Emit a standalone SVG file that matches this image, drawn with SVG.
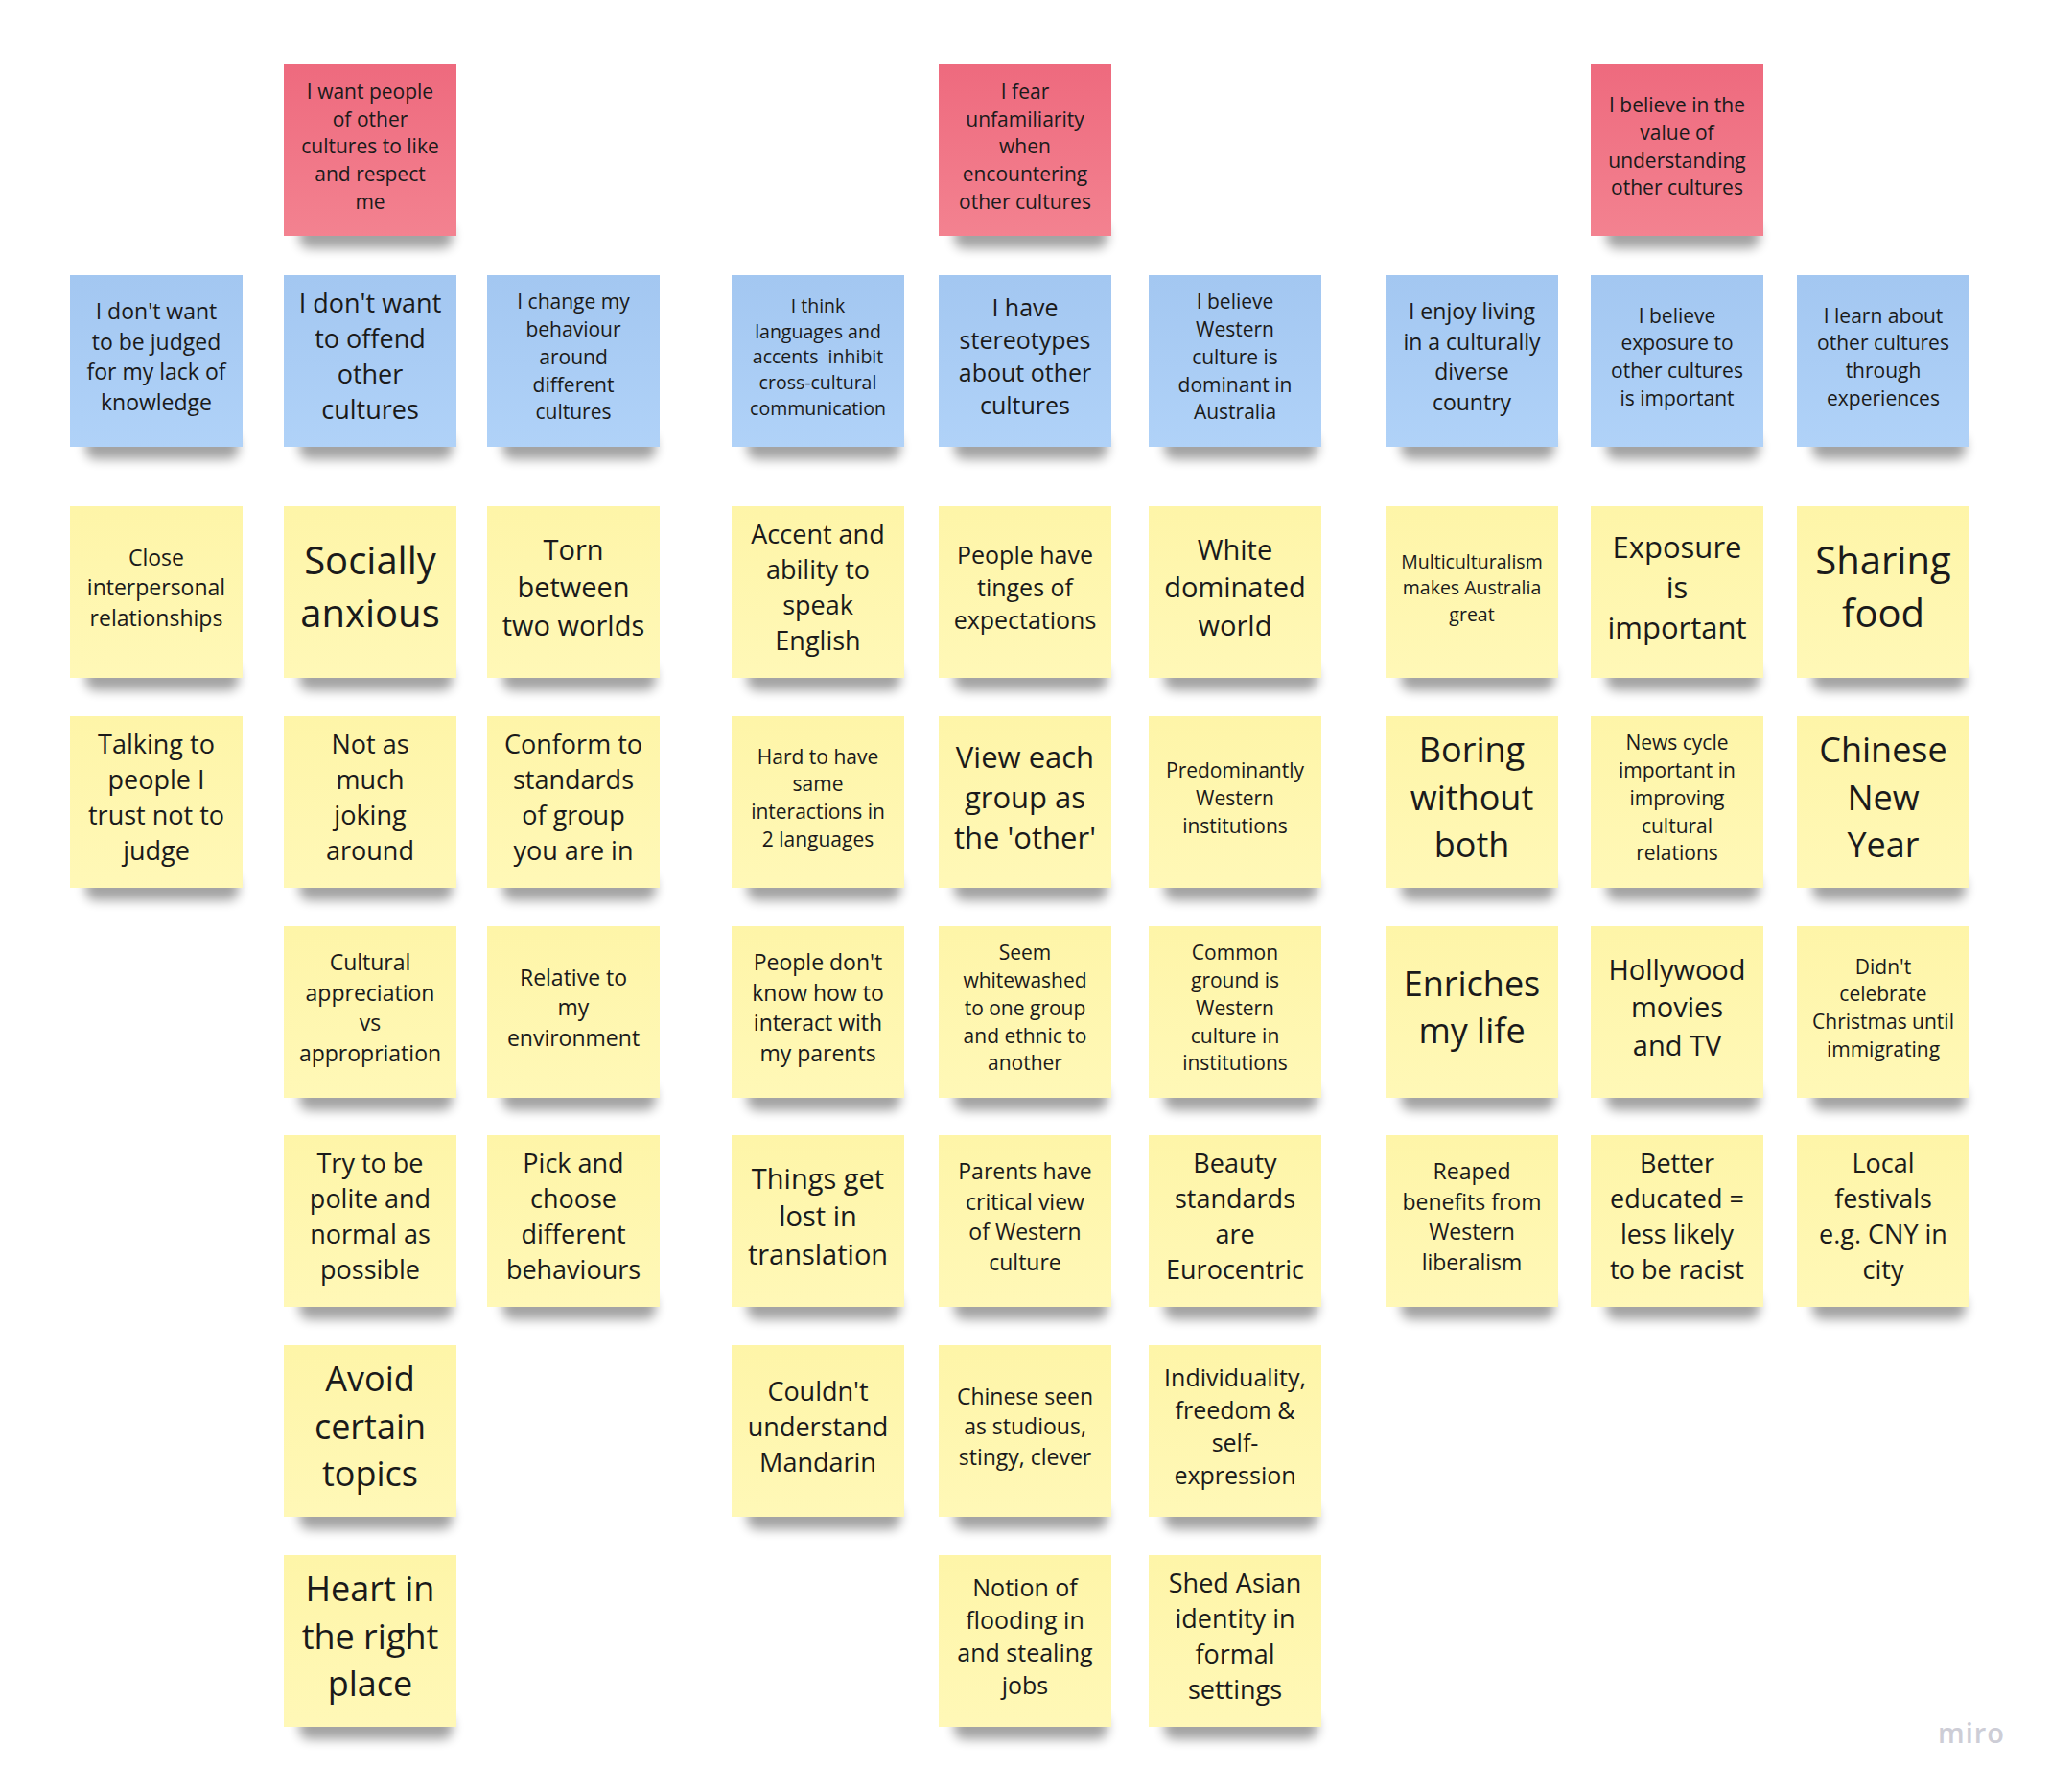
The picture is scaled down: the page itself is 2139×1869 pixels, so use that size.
<svg xmlns="http://www.w3.org/2000/svg" width="2139" height="1869" viewBox="0 0 2139 1869">
<defs>
<linearGradient id="gy" x1="0" y1="0" x2="0" y2="1"><stop offset="0" stop-color="#fef5a8"/><stop offset="1" stop-color="#fff8b7"/></linearGradient>
<linearGradient id="gb" x1="0" y1="0" x2="0" y2="1"><stop offset="0" stop-color="#a3c7f1"/><stop offset="1" stop-color="#b0d2f8"/></linearGradient>
<linearGradient id="gr" x1="0" y1="0" x2="0" y2="1"><stop offset="0" stop-color="#ee6a7e"/><stop offset="1" stop-color="#f38290"/></linearGradient>
<filter id="blur" x="-20%" y="-150%" width="140%" height="400%"><feGaussianBlur stdDeviation="6"/></filter>
</defs>
<style>
.sh{fill:#000;opacity:.36;filter:url(#blur)}
.y{fill:url(#gy)}
.b{fill:url(#gb)}
.r{fill:url(#gr)}
.t{font-family:"Open Sans","Noto Sans","DejaVu Sans",sans-serif;fill:#1a1a1a;text-anchor:middle}
.logo{font-family:"Open Sans","Noto Sans",sans-serif;font-weight:600;fill:#cdcdd6;font-size:29px;letter-spacing:1px}
</style>
<rect width="2139" height="1869" fill="#ffffff"/>

<!-- Red header notes -->
<g id="red-1" transform="translate(296,67)"><rect class="sh" x="16" y="166" width="160" height="26" rx="10"/><rect class="r" width="180" height="179"/><text class="t" font-size="21"><tspan x="90" y="35.7">I want people</tspan><tspan x="90" y="64.5">of other</tspan><tspan x="90" y="93.2">cultures to like</tspan><tspan x="90" y="122">and respect</tspan><tspan x="90" y="150.8">me</tspan></text></g>
<g id="red-2" transform="translate(979,67)"><rect class="sh" x="16" y="166" width="160" height="26" rx="10"/><rect class="r" width="180" height="179"/><text class="t" font-size="21"><tspan x="90" y="35.7">I fear</tspan><tspan x="90" y="64.5">unfamiliarity</tspan><tspan x="90" y="93.2">when</tspan><tspan x="90" y="122">encountering</tspan><tspan x="90" y="150.8">other cultures</tspan></text></g>
<g id="red-3" transform="translate(1659,67)"><rect class="sh" x="16" y="166" width="160" height="26" rx="10"/><rect class="r" width="180" height="179"/><text class="t" font-size="21"><tspan x="90" y="50.1">I believe in the</tspan><tspan x="90" y="78.8">value of</tspan><tspan x="90" y="107.6">understanding</tspan><tspan x="90" y="136.4">other cultures</tspan></text></g>

<!-- Blue notes -->
<g id="blue-1" transform="translate(73,287)"><rect class="sh" x="16" y="166" width="160" height="26" rx="10"/><rect class="b" width="180" height="179"/><text class="t" font-size="23"><tspan x="90" y="46.1">I don't want</tspan><tspan x="90" y="77.6">to be judged</tspan><tspan x="90" y="109.1">for my lack of</tspan><tspan x="90" y="140.6">knowledge</tspan></text></g>
<g id="blue-2" transform="translate(296,287)"><rect class="sh" x="16" y="166" width="160" height="26" rx="10"/><rect class="b" width="180" height="179"/><text class="t" font-size="27"><tspan x="90" y="39.2">I don't want</tspan><tspan x="90" y="76.1">to offend</tspan><tspan x="90" y="113.1">other</tspan><tspan x="90" y="150.1">cultures</tspan></text></g>
<g id="blue-3" transform="translate(508,287)"><rect class="sh" x="16" y="166" width="160" height="26" rx="10"/><rect class="b" width="180" height="179"/><text class="t" font-size="21"><tspan x="90" y="35.2">I change my</tspan><tspan x="90" y="64">behaviour</tspan><tspan x="90" y="92.7">around</tspan><tspan x="90" y="121.5">different</tspan><tspan x="90" y="150.3">cultures</tspan></text></g>
<g id="blue-4" transform="translate(763,287)"><rect class="sh" x="16" y="166" width="160" height="26" rx="10"/><rect class="b" width="180" height="179"/><text class="t" font-size="19.5" xml:space="preserve"><tspan x="90" y="38.8">I think</tspan><tspan x="90" y="65.5">languages and</tspan><tspan x="90" y="92.2">accents  inhibit</tspan><tspan x="90" y="119">cross-cultural</tspan><tspan x="90" y="145.7">communication</tspan></text></g>
<g id="blue-5" transform="translate(979,287)"><rect class="sh" x="16" y="166" width="160" height="26" rx="10"/><rect class="b" width="180" height="179"/><text class="t" font-size="25"><tspan x="90" y="42.6">I have</tspan><tspan x="90" y="76.9">stereotypes</tspan><tspan x="90" y="111.1">about other</tspan><tspan x="90" y="145.4">cultures</tspan></text></g>
<g id="blue-6" transform="translate(1198,287)"><rect class="sh" x="16" y="166" width="160" height="26" rx="10"/><rect class="b" width="180" height="179"/><text class="t" font-size="21"><tspan x="90" y="35.2">I believe</tspan><tspan x="90" y="64">Western</tspan><tspan x="90" y="92.7">culture is</tspan><tspan x="90" y="121.5">dominant in</tspan><tspan x="90" y="150.3">Australia</tspan></text></g>
<g id="blue-7" transform="translate(1445,287)"><rect class="sh" x="16" y="166" width="160" height="26" rx="10"/><rect class="b" width="180" height="179"/><text class="t" font-size="23"><tspan x="90" y="46.1">I enjoy living</tspan><tspan x="90" y="77.6">in a culturally</tspan><tspan x="90" y="109.1">diverse</tspan><tspan x="90" y="140.6">country</tspan></text></g>
<g id="blue-8" transform="translate(1659,287)"><rect class="sh" x="16" y="166" width="160" height="26" rx="10"/><rect class="b" width="180" height="179"/><text class="t" font-size="21"><tspan x="90" y="49.6">I believe</tspan><tspan x="90" y="78.3">exposure to</tspan><tspan x="90" y="107.1">other cultures</tspan><tspan x="90" y="135.9">is important</tspan></text></g>
<g id="blue-9" transform="translate(1874,287)"><rect class="sh" x="16" y="166" width="160" height="26" rx="10"/><rect class="b" width="180" height="179"/><text class="t" font-size="21"><tspan x="90" y="49.6">I learn about</tspan><tspan x="90" y="78.3">other cultures</tspan><tspan x="90" y="107.1">through</tspan><tspan x="90" y="135.9">experiences</tspan></text></g>

<!-- Yellow row 1 -->
<g id="y1-1" transform="translate(73,528)"><rect class="sh" x="16" y="166" width="160" height="26" rx="10"/><rect class="y" width="180" height="179"/><text class="t" font-size="23"><tspan x="90" y="61.9">Close</tspan><tspan x="90" y="93.4">interpersonal</tspan><tspan x="90" y="124.9">relationships</tspan></text></g>
<g id="y1-2" transform="translate(296,528)"><rect class="sh" x="16" y="166" width="160" height="26" rx="10"/><rect class="y" width="180" height="179"/><text class="t" font-size="40"><tspan x="90" y="71.4">Socially</tspan><tspan x="90" y="126.2">anxious</tspan></text></g>
<g id="y1-3" transform="translate(508,528)"><rect class="sh" x="16" y="166" width="160" height="26" rx="10"/><rect class="y" width="180" height="179"/><text class="t" font-size="29"><tspan x="90" y="55.6">Torn</tspan><tspan x="90" y="95.3">between</tspan><tspan x="90" y="135">two worlds</tspan></text></g>
<g id="y1-4" transform="translate(763,528)"><rect class="sh" x="16" y="166" width="160" height="26" rx="10"/><rect class="y" width="180" height="179"/><text class="t" font-size="27"><tspan x="90" y="39.2">Accent and</tspan><tspan x="90" y="76.1">ability to</tspan><tspan x="90" y="113.1">speak</tspan><tspan x="90" y="150.1">English</tspan></text></g>
<g id="y1-5" transform="translate(979,528)"><rect class="sh" x="16" y="166" width="160" height="26" rx="10"/><rect class="y" width="180" height="179"/><text class="t" font-size="25"><tspan x="90" y="59.8">People have</tspan><tspan x="90" y="94">tinges of</tspan><tspan x="90" y="128.3">expectations</tspan></text></g>
<g id="y1-6" transform="translate(1198,528)"><rect class="sh" x="16" y="166" width="160" height="26" rx="10"/><rect class="y" width="180" height="179"/><text class="t" font-size="29"><tspan x="90" y="55.6">White</tspan><tspan x="90" y="95.3">dominated</tspan><tspan x="90" y="135">world</tspan></text></g>
<g id="y1-7" transform="translate(1445,528)"><rect class="sh" x="16" y="166" width="160" height="26" rx="10"/><rect class="y" width="180" height="179"/><text class="t" font-size="19.5"><tspan x="90" y="65">Multiculturalism</tspan><tspan x="90" y="92.4">makes Australia</tspan><tspan x="90" y="119.8">great</tspan></text></g>
<g id="y1-8" transform="translate(1659,528)"><rect class="sh" x="16" y="166" width="160" height="26" rx="10"/><rect class="y" width="180" height="179"/><text class="t" font-size="31"><tspan x="90" y="53.5">Exposure</tspan><tspan x="90" y="95.9">is</tspan><tspan x="90" y="138.4">important</tspan></text></g>
<g id="y1-9" transform="translate(1874,528)"><rect class="sh" x="16" y="166" width="160" height="26" rx="10"/><rect class="y" width="180" height="179"/><text class="t" font-size="40"><tspan x="90" y="71.4">Sharing</tspan><tspan x="90" y="126.2">food</tspan></text></g>

<!-- Yellow row 2 -->
<g id="y2-1" transform="translate(73,747)"><rect class="sh" x="16" y="166" width="160" height="26" rx="10"/><rect class="y" width="180" height="179"/><text class="t" font-size="27"><tspan x="90" y="39.2">Talking to</tspan><tspan x="90" y="76.1">people I</tspan><tspan x="90" y="113.1">trust not to</tspan><tspan x="90" y="150.1">judge</tspan></text></g>
<g id="y2-2" transform="translate(296,747)"><rect class="sh" x="16" y="166" width="160" height="26" rx="10"/><rect class="y" width="180" height="179"/><text class="t" font-size="27"><tspan x="90" y="39.2">Not as</tspan><tspan x="90" y="76.1">much</tspan><tspan x="90" y="113.1">joking</tspan><tspan x="90" y="150.1">around</tspan></text></g>
<g id="y2-3" transform="translate(508,747)"><rect class="sh" x="16" y="166" width="160" height="26" rx="10"/><rect class="y" width="180" height="179"/><text class="t" font-size="27"><tspan x="90" y="39.2">Conform to</tspan><tspan x="90" y="76.1">standards</tspan><tspan x="90" y="113.1">of group</tspan><tspan x="90" y="150.1">you are in</tspan></text></g>
<g id="y2-4" transform="translate(763,747)"><rect class="sh" x="16" y="166" width="160" height="26" rx="10"/><rect class="y" width="180" height="179"/><text class="t" font-size="21"><tspan x="90" y="49.6">Hard to have</tspan><tspan x="90" y="78.3">same</tspan><tspan x="90" y="107.1">interactions in</tspan><tspan x="90" y="135.9">2 languages</tspan></text></g>
<g id="y2-5" transform="translate(979,747)"><rect class="sh" x="16" y="166" width="160" height="26" rx="10"/><rect class="y" width="180" height="179"/><text class="t" font-size="31"><tspan x="90" y="53.5">View each</tspan><tspan x="90" y="95.9">group as</tspan><tspan x="90" y="138.4">the 'other'</tspan></text></g>
<g id="y2-6" transform="translate(1198,747)"><rect class="sh" x="16" y="166" width="160" height="26" rx="10"/><rect class="y" width="180" height="179"/><text class="t" font-size="21"><tspan x="90" y="64">Predominantly</tspan><tspan x="90" y="92.7">Western</tspan><tspan x="90" y="121.5">institutions</tspan></text></g>
<g id="y2-7" transform="translate(1445,747)"><rect class="sh" x="16" y="166" width="160" height="26" rx="10"/><rect class="y" width="180" height="179"/><text class="t" font-size="36"><tspan x="90" y="48.2">Boring</tspan><tspan x="90" y="97.5">without</tspan><tspan x="90" y="146.8">both</tspan></text></g>
<g id="y2-8" transform="translate(1659,747)"><rect class="sh" x="16" y="166" width="160" height="26" rx="10"/><rect class="y" width="180" height="179"/><text class="t" font-size="21"><tspan x="90" y="35.2">News cycle</tspan><tspan x="90" y="64">important in</tspan><tspan x="90" y="92.7">improving</tspan><tspan x="90" y="121.5">cultural</tspan><tspan x="90" y="150.3">relations</tspan></text></g>
<g id="y2-9" transform="translate(1874,747)"><rect class="sh" x="16" y="166" width="160" height="26" rx="10"/><rect class="y" width="180" height="179"/><text class="t" font-size="36"><tspan x="90" y="48.2">Chinese</tspan><tspan x="90" y="97.5">New</tspan><tspan x="90" y="146.8">Year</tspan></text></g>

<!-- Yellow row 3 -->
<g id="y3-2" transform="translate(296,966)"><rect class="sh" x="16" y="166" width="160" height="26" rx="10"/><rect class="y" width="180" height="179"/><text class="t" font-size="23"><tspan x="90" y="46.1">Cultural</tspan><tspan x="90" y="77.6">appreciation</tspan><tspan x="90" y="109.1">vs</tspan><tspan x="90" y="140.6">appropriation</tspan></text></g>
<g id="y3-3" transform="translate(508,966)"><rect class="sh" x="16" y="166" width="160" height="26" rx="10"/><rect class="y" width="180" height="179"/><text class="t" font-size="23"><tspan x="90" y="61.9">Relative to</tspan><tspan x="90" y="93.4">my</tspan><tspan x="90" y="124.9">environment</tspan></text></g>
<g id="y3-4" transform="translate(763,966)"><rect class="sh" x="16" y="166" width="160" height="26" rx="10"/><rect class="y" width="180" height="179"/><text class="t" font-size="23"><tspan x="90" y="46.1">People don't</tspan><tspan x="90" y="77.6">know how to</tspan><tspan x="90" y="109.1">interact with</tspan><tspan x="90" y="140.6">my parents</tspan></text></g>
<g id="y3-5" transform="translate(979,966)"><rect class="sh" x="16" y="166" width="160" height="26" rx="10"/><rect class="y" width="180" height="179"/><text class="t" font-size="21"><tspan x="90" y="35.2">Seem</tspan><tspan x="90" y="64">whitewashed</tspan><tspan x="90" y="92.7">to one group</tspan><tspan x="90" y="121.5">and ethnic to</tspan><tspan x="90" y="150.3">another</tspan></text></g>
<g id="y3-6" transform="translate(1198,966)"><rect class="sh" x="16" y="166" width="160" height="26" rx="10"/><rect class="y" width="180" height="179"/><text class="t" font-size="21"><tspan x="90" y="35.2">Common</tspan><tspan x="90" y="64">ground is</tspan><tspan x="90" y="92.7">Western</tspan><tspan x="90" y="121.5">culture in</tspan><tspan x="90" y="150.3">institutions</tspan></text></g>
<g id="y3-7" transform="translate(1445,966)"><rect class="sh" x="16" y="166" width="160" height="26" rx="10"/><rect class="y" width="180" height="179"/><text class="t" font-size="36"><tspan x="90" y="72.9">Enriches</tspan><tspan x="90" y="122.2">my life</tspan></text></g>
<g id="y3-8" transform="translate(1659,966)"><rect class="sh" x="16" y="166" width="160" height="26" rx="10"/><rect class="y" width="180" height="179"/><text class="t" font-size="29"><tspan x="90" y="55.6">Hollywood</tspan><tspan x="90" y="95.3">movies</tspan><tspan x="90" y="135">and TV</tspan></text></g>
<g id="y3-9" transform="translate(1874,966)"><rect class="sh" x="16" y="166" width="160" height="26" rx="10"/><rect class="y" width="180" height="179"/><text class="t" font-size="21"><tspan x="90" y="49.6">Didn't</tspan><tspan x="90" y="78.3">celebrate</tspan><tspan x="90" y="107.1">Christmas until</tspan><tspan x="90" y="135.9">immigrating</tspan></text></g>

<!-- Yellow row 4 -->
<g id="y4-2" transform="translate(296,1184)"><rect class="sh" x="16" y="166" width="160" height="26" rx="10"/><rect class="y" width="180" height="179"/><text class="t" font-size="27"><tspan x="90" y="39.2">Try to be</tspan><tspan x="90" y="76.1">polite and</tspan><tspan x="90" y="113.1">normal as</tspan><tspan x="90" y="150.1">possible</tspan></text></g>
<g id="y4-3" transform="translate(508,1184)"><rect class="sh" x="16" y="166" width="160" height="26" rx="10"/><rect class="y" width="180" height="179"/><text class="t" font-size="27"><tspan x="90" y="39.2">Pick and</tspan><tspan x="90" y="76.1">choose</tspan><tspan x="90" y="113.1">different</tspan><tspan x="90" y="150.1">behaviours</tspan></text></g>
<g id="y4-4" transform="translate(763,1184)"><rect class="sh" x="16" y="166" width="160" height="26" rx="10"/><rect class="y" width="180" height="179"/><text class="t" font-size="29"><tspan x="90" y="55.6">Things get</tspan><tspan x="90" y="95.3">lost in</tspan><tspan x="90" y="135">translation</tspan></text></g>
<g id="y4-5" transform="translate(979,1184)"><rect class="sh" x="16" y="166" width="160" height="26" rx="10"/><rect class="y" width="180" height="179"/><text class="t" font-size="23"><tspan x="90" y="46.1">Parents have</tspan><tspan x="90" y="77.6">critical view</tspan><tspan x="90" y="109.1">of Western</tspan><tspan x="90" y="140.6">culture</tspan></text></g>
<g id="y4-6" transform="translate(1198,1184)"><rect class="sh" x="16" y="166" width="160" height="26" rx="10"/><rect class="y" width="180" height="179"/><text class="t" font-size="27"><tspan x="90" y="39.2">Beauty</tspan><tspan x="90" y="76.1">standards</tspan><tspan x="90" y="113.1">are</tspan><tspan x="90" y="150.1">Eurocentric</tspan></text></g>
<g id="y4-7" transform="translate(1445,1184)"><rect class="sh" x="16" y="166" width="160" height="26" rx="10"/><rect class="y" width="180" height="179"/><text class="t" font-size="23"><tspan x="90" y="46.1">Reaped</tspan><tspan x="90" y="77.6">benefits from</tspan><tspan x="90" y="109.1">Western</tspan><tspan x="90" y="140.6">liberalism</tspan></text></g>
<g id="y4-8" transform="translate(1659,1184)"><rect class="sh" x="16" y="166" width="160" height="26" rx="10"/><rect class="y" width="180" height="179"/><text class="t" font-size="27"><tspan x="90" y="39.2">Better</tspan><tspan x="90" y="76.1">educated =</tspan><tspan x="90" y="113.1">less likely</tspan><tspan x="90" y="150.1">to be racist</tspan></text></g>
<g id="y4-9" transform="translate(1874,1184)"><rect class="sh" x="16" y="166" width="160" height="26" rx="10"/><rect class="y" width="180" height="179"/><text class="t" font-size="27"><tspan x="90" y="39.2">Local</tspan><tspan x="90" y="76.1">festivals</tspan><tspan x="90" y="113.1">e.g. CNY in</tspan><tspan x="90" y="150.1">city</tspan></text></g>

<!-- Yellow row 5 -->
<g id="y5-2" transform="translate(296,1403)"><rect class="sh" x="16" y="166" width="160" height="26" rx="10"/><rect class="y" width="180" height="179"/><text class="t" font-size="36"><tspan x="90" y="48.2">Avoid</tspan><tspan x="90" y="97.5">certain</tspan><tspan x="90" y="146.8">topics</tspan></text></g>
<g id="y5-4" transform="translate(763,1403)"><rect class="sh" x="16" y="166" width="160" height="26" rx="10"/><rect class="y" width="180" height="179"/><text class="t" font-size="27"><tspan x="90" y="57.7">Couldn't</tspan><tspan x="90" y="94.6">understand</tspan><tspan x="90" y="131.6">Mandarin</tspan></text></g>
<g id="y5-5" transform="translate(979,1403)"><rect class="sh" x="16" y="166" width="160" height="26" rx="10"/><rect class="y" width="180" height="179"/><text class="t" font-size="23"><tspan x="90" y="61.9">Chinese seen</tspan><tspan x="90" y="93.4">as studious,</tspan><tspan x="90" y="124.9">stingy, clever</tspan></text></g>
<g id="y5-6" transform="translate(1198,1403)"><rect class="sh" x="16" y="166" width="160" height="26" rx="10"/><rect class="y" width="180" height="179"/><text class="t" font-size="25"><tspan x="90" y="42.6">Individuality,</tspan><tspan x="90" y="76.9">freedom &amp;</tspan><tspan x="90" y="111.1">self-</tspan><tspan x="90" y="145.4">expression</tspan></text></g>

<!-- Yellow row 6 -->
<g id="y6-2" transform="translate(296,1622)"><rect class="sh" x="16" y="166" width="160" height="26" rx="10"/><rect class="y" width="180" height="179"/><text class="t" font-size="36"><tspan x="90" y="48.2">Heart in</tspan><tspan x="90" y="97.5">the right</tspan><tspan x="90" y="146.8">place</tspan></text></g>
<g id="y6-5" transform="translate(979,1622)"><rect class="sh" x="16" y="166" width="160" height="26" rx="10"/><rect class="y" width="180" height="179"/><text class="t" font-size="25"><tspan x="90" y="42.6">Notion of</tspan><tspan x="90" y="76.9">flooding in</tspan><tspan x="90" y="111.1">and stealing</tspan><tspan x="90" y="145.4">jobs</tspan></text></g>
<g id="y6-6" transform="translate(1198,1622)"><rect class="sh" x="16" y="166" width="160" height="26" rx="10"/><rect class="y" width="180" height="179"/><text class="t" font-size="27"><tspan x="90" y="39.2">Shed Asian</tspan><tspan x="90" y="76.1">identity in</tspan><tspan x="90" y="113.1">formal</tspan><tspan x="90" y="150.1">settings</tspan></text></g>

<text class="logo" x="2021" y="1818">miro</text>
</svg>
